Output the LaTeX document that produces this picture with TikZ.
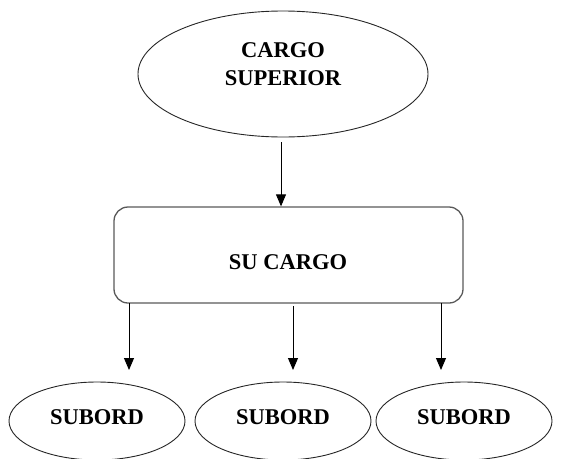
\documentclass[tikz,border=0pt]{standalone}
\usepackage{fontspec}
\setmainfont{Liberation Serif}
\usetikzlibrary{shapes.geometric,arrows.meta}
\begin{document}
\begin{tikzpicture}[x=1pt,y=-1pt,
  oval/.style={ellipse,draw=black!85,line width=0.9pt,inner sep=0pt},
  box/.style={rectangle,rounded corners=14pt,draw=black!65,line width=1.3pt,inner sep=0pt},
  lbl/.style={font=\bfseries\fontsize{22.5}{28}\selectfont,align=center,inner sep=0pt},
  conn/.style={line width=0.9pt,-{Triangle[width=10pt,length=12pt]}}]
\useasboundingbox (0,0) rectangle (561,458);
\node[oval,minimum width=290,minimum height=126] (sup) at (283,74) {};
\node[lbl] (suptxt) at (283,64) {CARGO\\SUPERIOR};
\node[box,minimum width=349,minimum height=96] (mid) at (288.5,255) {};
\node[lbl] (midtxt) at (288,262) {SU CARGO};
\node[oval,minimum width=176,minimum height=78] (s1) at (97,421) {};
\node[oval,minimum width=176,minimum height=78] (s2) at (283,421) {};
\node[oval,minimum width=176,minimum height=78] (s3) at (464,421) {};
\node[lbl] (t1) at (97,417) {SUBORD};
\node[lbl] (t2) at (283,417) {SUBORD};
\node[lbl] (t3) at (464,417) {SUBORD};
\coordinate (a0) at (281,142);
\coordinate (a1) at (129,303);
\coordinate (a2) at (293,306);
\coordinate (a3) at (441,303);
\coordinate (b1) at (129,370);
\coordinate (b2) at (293,370);
\coordinate (b3) at (441,370);
\draw[conn] (a0) -- (mid.north -| a0);
\draw[conn] (a1) -- (b1);
\draw[conn] (a2) -- (b2);
\draw[conn] (a3) -- (b3);
\end{tikzpicture}
\end{document}
